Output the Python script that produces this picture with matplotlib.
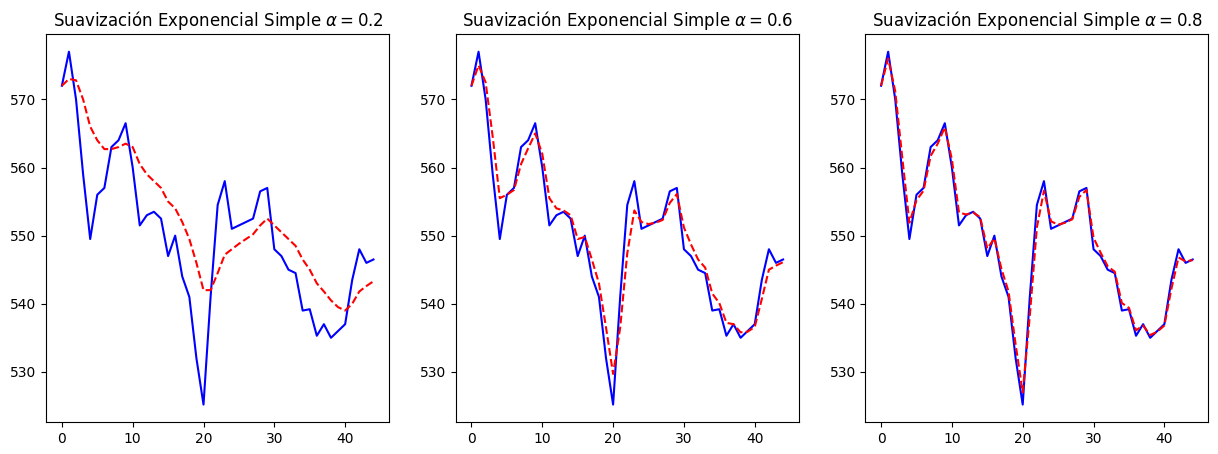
import matplotlib.pyplot as plt

x = list(range(45))
serie = [572, 577, 570, 559, 549.5, 556, 557, 563, 564, 566.5, 560, 551.5, 553, 553.5, 552.5,
         547, 550, 544, 541, 532, 525.2, 541, 554.5, 558, 551, 551.5, 552, 552.5, 556.5, 557,
         548, 547, 545, 544.5, 539, 539.2, 535.3, 537, 535, 536, 537, 543.5, 548, 546, 546.5]

suav_02 = [572, 573, 572.8, 570, 566, 564, 562.7, 562.7, 563, 563.5, 563, 560.5, 559, 558, 557,
           555, 554, 552, 549.5, 546, 542, 542, 544.5, 547.2, 548, 548.8, 549.5, 550.2, 551.5, 552.5,
           551.5, 550.5, 549.5, 548.5, 546.5, 545, 543, 541.8, 540.5, 539.5, 539, 540, 541.8, 542.6, 543.3]
suav_06 = [572, 575, 572.5, 564.5, 555.5, 556, 556.7, 560.5, 562.8, 565, 562, 555.5, 554, 553.7, 553,
           549.5, 549.8, 546.5, 543, 536.5, 529.7, 536.5, 547.4, 553.7, 552, 551.7, 551.9, 552.3, 554.8, 556.1,
           551.2, 548.7, 546.5, 545.3, 541.5, 540.1, 537.2, 537, 535.8, 535.9, 536.6, 540.7, 545, 545.6, 546.1]
suav_08 = [572, 576, 571.2, 561.4, 551.9, 555.2, 556.6, 561.7, 563.5, 565.9, 561.2, 553.4, 553.1, 553.4, 552.7,
           548.1, 549.6, 545.1, 541.8, 534, 527, 538.2, 551.2, 556.6, 552.1, 551.6, 551.9, 552.4, 555.7, 556.7,
           549.7, 547.5, 545.5, 544.7, 540.1, 539.4, 536.1, 536.8, 535.4, 535.9, 536.8, 542.2, 546.8, 546.2, 546.4]

alphas = ["0.2", "0.6", "0.8"]
suavizados = [suav_02, suav_06, suav_08]

fig, axes = plt.subplots(1, 3, figsize=(12.18, 4.54), dpi=100)
for ax, a, s in zip(axes, alphas, suavizados):
    ax.plot(x, serie, color='blue')
    ax.plot(x, s, color='red', linestyle='--')
    ax.set_title(r"Suavización Exponencial Simple $\alpha = $" + a)
    ax.set_yticks([530, 540, 550, 560, 570])
    ax.set_xticks([0, 10, 20, 30, 40])
plt.subplots_adjust(left=0.038, right=0.992, top=0.925, bottom=0.07, wspace=0.195)
plt.savefig("out.png")
